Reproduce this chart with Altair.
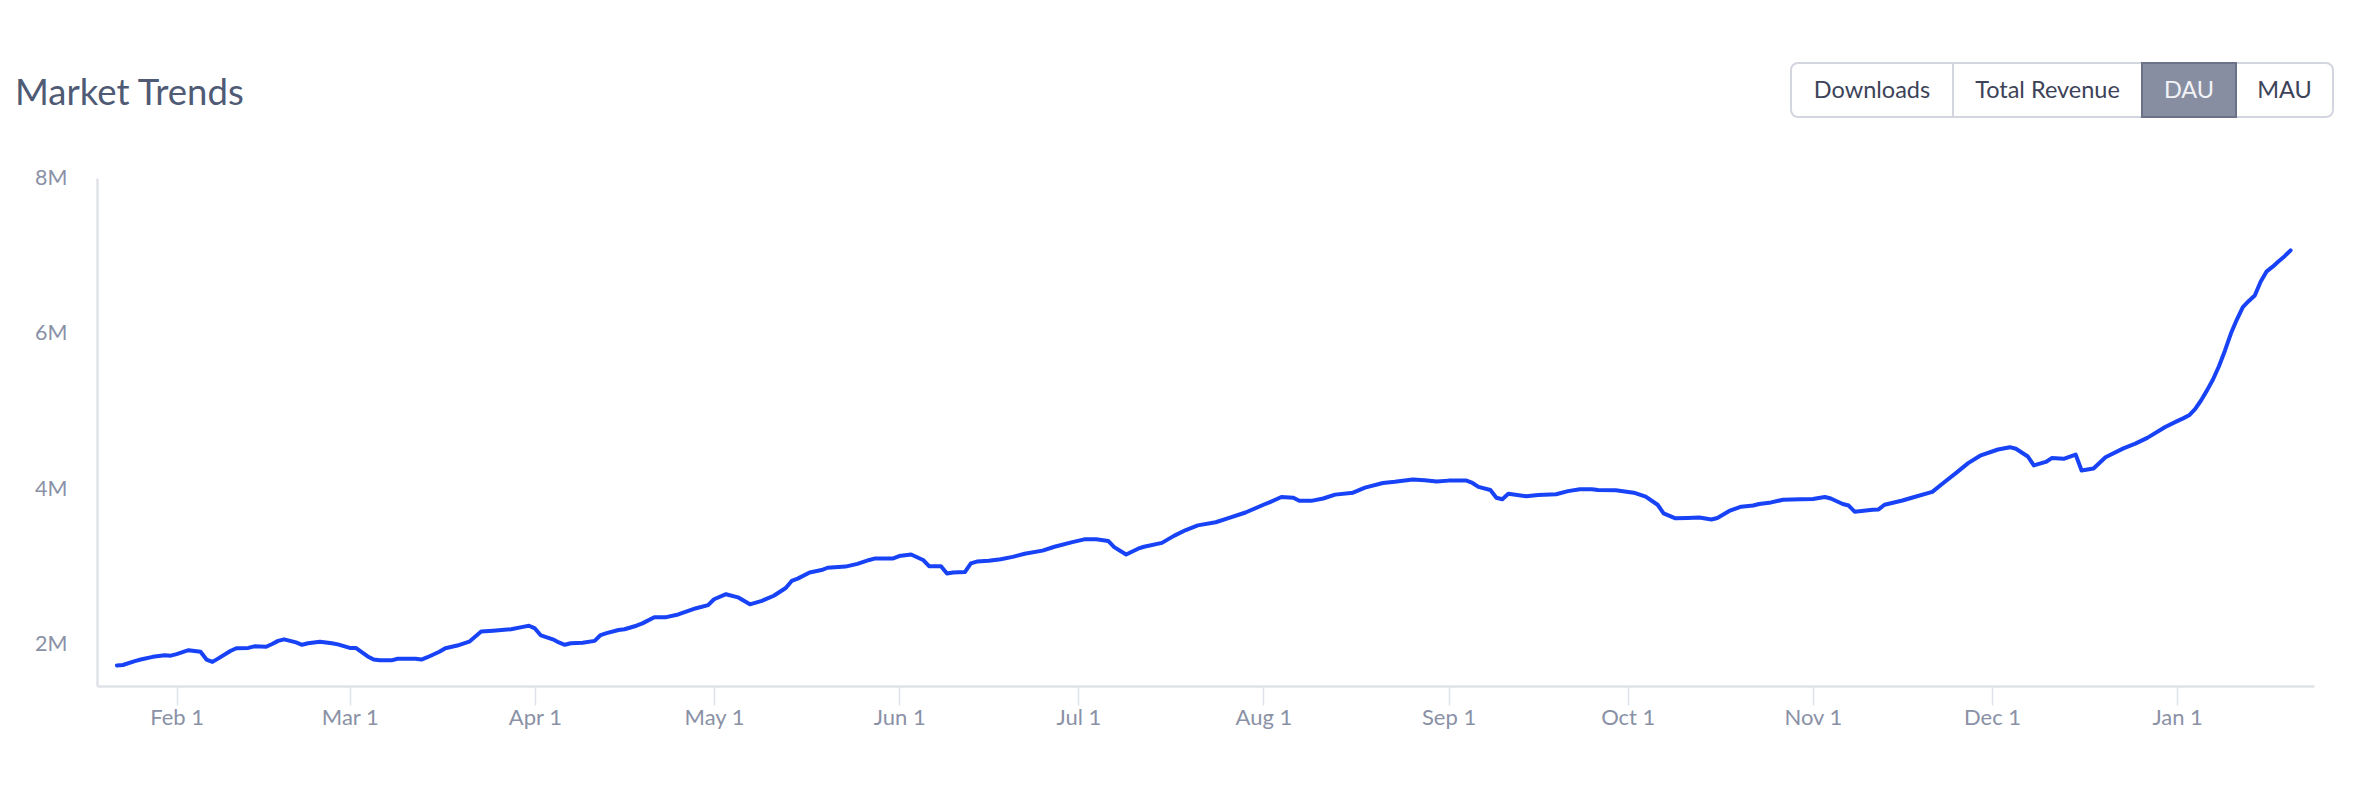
import altair as alt
import pandas as pd

dates = [
    "2024-01-22", "2024-01-23", "2024-01-25", "2024-01-26", "2024-01-28", "2024-01-30", "2024-01-31",
    "2024-02-01", "2024-02-03", "2024-02-05", "2024-02-06", "2024-02-07", "2024-02-08", "2024-02-10",
    "2024-02-11", "2024-02-13", "2024-02-14", "2024-02-16", "2024-02-17", "2024-02-18", "2024-02-19",
    "2024-02-21", "2024-02-22", "2024-02-23", "2024-02-25", "2024-02-27", "2024-02-28",
    "2024-03-01", "2024-03-02", "2024-03-04", "2024-03-05", "2024-03-06", "2024-03-08", "2024-03-09",
    "2024-03-12", "2024-03-13", "2024-03-14", "2024-03-16", "2024-03-17", "2024-03-19", "2024-03-21",
    "2024-03-23", "2024-03-25", "2024-03-28", "2024-03-30", "2024-03-31",
    "2024-04-01", "2024-04-02", "2024-04-04", "2024-04-05", "2024-04-06", "2024-04-07", "2024-04-09",
    "2024-04-11", "2024-04-12", "2024-04-13", "2024-04-15", "2024-04-16", "2024-04-18", "2024-04-19",
    "2024-04-21", "2024-04-23", "2024-04-25", "2024-04-28", "2024-04-30",
    "2024-05-01", "2024-05-03", "2024-05-05", "2024-05-07", "2024-05-09", "2024-05-11", "2024-05-13",
    "2024-05-14", "2024-05-15", "2024-05-17", "2024-05-19", "2024-05-20", "2024-05-23", "2024-05-25",
    "2024-05-27", "2024-05-28", "2024-05-31",
    "2024-06-01", "2024-06-03", "2024-06-05", "2024-06-06", "2024-06-08", "2024-06-09", "2024-06-10",
    "2024-06-12", "2024-06-13", "2024-06-14", "2024-06-16", "2024-06-18", "2024-06-20", "2024-06-22",
    "2024-06-25", "2024-06-27", "2024-06-30",
    "2024-07-02", "2024-07-04", "2024-07-06", "2024-07-07", "2024-07-09", "2024-07-11", "2024-07-12",
    "2024-07-15", "2024-07-17", "2024-07-19", "2024-07-21", "2024-07-24", "2024-07-26", "2024-07-29",
    "2024-08-01", "2024-08-02", "2024-08-04", "2024-08-06", "2024-08-07", "2024-08-09", "2024-08-11",
    "2024-08-13", "2024-08-16", "2024-08-18", "2024-08-21", "2024-08-23", "2024-08-26", "2024-08-28",
    "2024-08-30",
    "2024-09-01", "2024-09-04", "2024-09-05", "2024-09-06", "2024-09-08", "2024-09-09", "2024-09-10",
    "2024-09-11", "2024-09-14", "2024-09-16", "2024-09-19", "2024-09-21", "2024-09-23", "2024-09-25",
    "2024-09-26", "2024-09-29",
    "2024-10-02", "2024-10-04", "2024-10-06", "2024-10-07", "2024-10-09", "2024-10-11", "2024-10-13",
    "2024-10-15", "2024-10-16", "2024-10-18", "2024-10-20", "2024-10-22", "2024-10-23", "2024-10-25",
    "2024-10-27", "2024-10-30",
    "2024-11-01", "2024-11-03", "2024-11-04", "2024-11-06", "2024-11-07", "2024-11-08", "2024-11-11",
    "2024-11-12", "2024-11-13", "2024-11-16", "2024-11-18", "2024-11-21", "2024-11-23", "2024-11-25",
    "2024-11-27", "2024-11-29",
    "2024-12-02", "2024-12-04", "2024-12-05", "2024-12-07", "2024-12-08", "2024-12-10", "2024-12-11",
    "2024-12-13", "2024-12-15", "2024-12-16", "2024-12-18", "2024-12-20", "2024-12-23", "2024-12-25",
    "2024-12-27", "2024-12-30",
    "2025-01-01", "2025-01-02", "2025-01-03", "2025-01-04", "2025-01-05", "2025-01-06", "2025-01-07",
    "2025-01-08", "2025-01-09", "2025-01-10", "2025-01-11", "2025-01-12", "2025-01-13", "2025-01-14",
    "2025-01-15", "2025-01-16", "2025-01-17", "2025-01-18", "2025-01-19", "2025-01-20",
]

dau_millions = [
    1.735, 1.74, 1.79, 1.81, 1.845, 1.865, 1.86,
    1.88, 1.93, 1.91, 1.81, 1.78, 1.825, 1.92,
    1.955, 1.96, 1.98, 1.975, 2.01, 2.05, 2.07,
    2.03, 2.00, 2.02, 2.04, 2.02, 2.005,
    1.96, 1.96, 1.85, 1.81, 1.80, 1.80, 1.82,
    1.82, 1.81, 1.84, 1.91, 1.955, 1.99, 2.04,
    2.17, 2.18, 2.20, 2.23, 2.245,
    2.21, 2.12, 2.07, 2.03, 2.00, 2.02, 2.025,
    2.05, 2.125, 2.15, 2.19, 2.20, 2.245, 2.275,
    2.355, 2.355, 2.39, 2.47, 2.51,
    2.585, 2.65, 2.61, 2.52, 2.565, 2.63, 2.73,
    2.82, 2.85, 2.93, 2.96, 2.99, 3.005, 3.04,
    3.09, 3.11, 3.11,
    3.14, 3.16, 3.09, 3.01, 3.01, 2.915, 2.93,
    2.935, 3.045, 3.07, 3.08, 3.10, 3.13, 3.17,
    3.21, 3.26, 3.32,
    3.355, 3.355, 3.335, 3.255, 3.16, 3.235, 3.26,
    3.31, 3.40, 3.475, 3.535, 3.575, 3.625, 3.70,
    3.80, 3.83, 3.90, 3.89, 3.85, 3.85, 3.88,
    3.93, 3.955, 4.02, 4.08, 4.095, 4.125, 4.115,
    4.10,
    4.11, 4.11, 4.08, 4.03, 3.99, 3.89, 3.87,
    3.94, 3.91, 3.925, 3.935, 3.975, 4.00, 4.00,
    3.99, 3.985,
    3.955, 3.905, 3.80, 3.69, 3.625, 3.63, 3.635,
    3.61, 3.63, 3.72, 3.775, 3.79, 3.81, 3.83,
    3.865, 3.87,
    3.875, 3.90, 3.88, 3.81, 3.79, 3.71, 3.735,
    3.74, 3.80, 3.855, 3.90, 3.965, 4.09, 4.21,
    4.335, 4.43,
    4.51, 4.54, 4.52, 4.42, 4.305, 4.35, 4.40,
    4.39, 4.445, 4.24, 4.265, 4.41, 4.525, 4.585,
    4.66, 4.80,
    4.875, 4.91, 4.95, 5.03, 5.14, 5.27, 5.41,
    5.58, 5.78, 6.00, 6.18, 6.34, 6.42, 6.49,
    6.67, 6.80, 6.86, 6.93, 6.995, 7.07,
]

y_ticks = [2_000_000, 4_000_000, 6_000_000, 8_000_000]
month_ticks = [(2024, m) for m in range(2, 13)] + [(2025, 1)]
title_text = "Market Trends"
buttons = ["Downloads", "Total Revenue", "DAU", "MAU"]
active_button = "DAU"

df = pd.DataFrame({
    "date": pd.to_datetime(dates),
    "dau": [v * 1_000_000 for v in dau_millions],
})

FONT = "Lato"
AXIS_COLOR = "#dfe2e9"
LABEL_COLOR = "#8a91a6"

x_enc = alt.X(
    "date:T",
    scale=alt.Scale(
        domain=[
            alt.DateTime(year=2024, month=1, date=18, hours=16),
            alt.DateTime(year=2025, month=1, date=23, hours=22),
        ]
    ),
    axis=alt.Axis(
        values=[alt.DateTime(year=y, month=m, date=1) for y, m in month_ticks],
        format="%b %-d",
        title=None,
        grid=False,
        domainColor=AXIS_COLOR,
        domainWidth=2.5,
        tickColor=AXIS_COLOR,
        tickWidth=1.5,
        tickSize=19,
        labelColor=LABEL_COLOR,
        labelFont=FONT,
        labelFontSize=22,
        labelPadding=2,
        labelFlush=False,
        labelOverlap=False,
    ),
)

y_enc = alt.Y(
    "dau:Q",
    scale=alt.Scale(domain=[1_470_000, 8_000_000], nice=False, zero=False),
    axis=alt.Axis(
        values=y_ticks,
        labelExpr="datum.value / 1000000 + 'M'",
        title=None,
        grid=False,
        ticks=False,
        domainColor=AXIS_COLOR,
        domainWidth=2.5,
        labelColor=LABEL_COLOR,
        labelFont=FONT,
        labelFontSize=21.5,
        labelPadding=30,
    ),
)

line = alt.Chart(df).mark_line(
    color="#1742f5", strokeWidth=4, strokeJoin="round", strokeCap="round"
).encode(x=x_enc, y=y_enc)

one = pd.DataFrame({"k": [0]})

title = alt.Chart(one).mark_text(
    text=title_text, font=FONT, fontSize=36.5, color="#4f5a75", align="left", baseline="middle"
).encode(x=alt.value(-82), y=alt.value(-84))

# button group geometry (pixels relative to plot origin)
btn_left, btn_right = 1694, 2236
btn_top, btn_bottom = -115, -61
edges = [1694, 1856, 2045, 2139, 2236]

layers = [line, title]

layers.append(
    alt.Chart(one).mark_rect(
        fill="white", stroke="#d3d6de", strokeWidth=2, cornerRadius=7
    ).encode(x=alt.value(btn_left), x2=alt.value(btn_right), y=alt.value(btn_top), y2=alt.value(btn_bottom))
)

for i, name in enumerate(buttons):
    x0, x1 = edges[i], edges[i + 1]
    if name == active_button:
        layers.append(
            alt.Chart(one).mark_rect(fill="#878ea1", stroke="#6b7186", strokeWidth=2).encode(
                x=alt.value(x0), x2=alt.value(x1), y=alt.value(btn_top), y2=alt.value(btn_bottom)
            )
        )
    elif i > 0 and buttons[i - 1] != active_button:
        layers.append(
            alt.Chart(one).mark_rule(color="#d3d6de", strokeWidth=2).encode(
                x=alt.value(x0), y=alt.value(btn_top), y2=alt.value(btn_bottom)
            )
        )
    layers.append(
        alt.Chart(one).mark_text(
            text=name,
            font=FONT,
            fontSize=23.5,
            color="#f2f3f7" if name == active_button else "#3c4358",
            align="center",
            baseline="middle",
        ).encode(x=alt.value((x0 + x1) / 2), y=alt.value(-87))
    )

chart = (
    alt.layer(*layers)
    .properties(
        width=2217,
        height=508,
        padding={"left": 89, "top": 170, "right": 50, "bottom": 100},
        autosize=alt.AutoSizeParams(type="none"),
        background="white",
    )
    .configure_view(strokeWidth=0)
)

chart.save("out.html", embed_options={"renderer": "svg", "actions": False})
